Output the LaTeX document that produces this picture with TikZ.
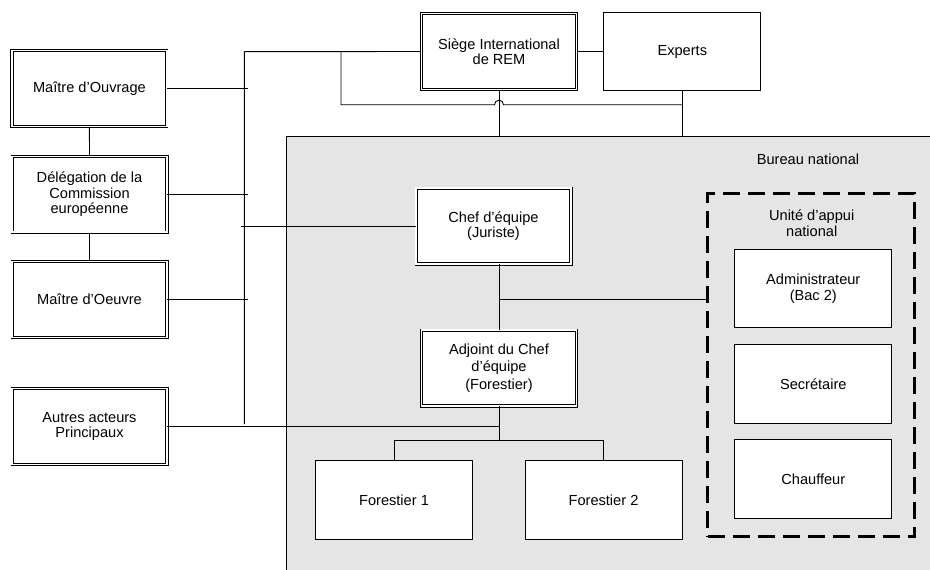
\documentclass[tikz,border=0pt]{standalone}
\usepackage{fontspec}
\setmainfont{Liberation Sans}
\begin{document}
\begin{tikzpicture}[x=1pt,y=-1pt,
  line/.style={line width=0.9pt},
  txt/.style={font=\fontsize{14.6}{15.5}\selectfont, align=center, inner sep=0pt},
  sbox/.style={txt, draw, fill=white, line width=0.9pt, minimum width=157pt, minimum height=78.2pt},
  dbox/.style={txt, draw, fill=white, double=white, double distance=1.6pt, line width=0.8pt, minimum width=154.8pt, minimum height=75.8pt},
  unitbox/.style={draw, line width=3pt, dash pattern=on 17pt off 8pt, inner sep=0pt, minimum width=206.7pt, minimum height=343.6pt}
]
\useasboundingbox (0,0) rectangle (930,570);
\clip (0,0) rectangle (930,570);

% Bureau national area
\node[fill=black!10, draw, line width=0.9pt, inner sep=0pt, minimum width=660pt, minimum height=450pt, anchor=north west] (bn) at (286,135.5) {};
\node[txt] (bnl) at (808,159.3) {Bureau national};

% unit box
\node[unitbox, anchor=north west] (ua) at (706,191.7) {};
\node[txt] (ual) at (811.7,223) {Unité d’appui\\national};

% boxes
\node[dbox] (sieg) at (499,51.5) {Siège International\\de REM};
\node[sbox] (exp) at (682.3,51.5) {Experts};
\node[dbox] (mo) at (89.4,88.5) {Maître d’Ouvrage};
\node[dbox] (del) at (89.5,194.3) {Délégation de la\\Commission\\européenne};
\node[dbox] (moe) at (89.5,299.5) {Maître d’Oeuvre};
\node[dbox] (aut) at (89.5,426.5) {Autres acteurs\\Principaux};
\node[dbox] (chef) at (493.5,226) {Chef d’équipe\\(Juriste)};
\node[dbox, font=\fontsize{14.6}{17.5}\selectfont] (adj) at (499,368) {Adjoint du Chef\\d’équipe\\(Forestier)};
\node[sbox] (f1) at (394,500) {Forestier 1};
\node[sbox] (f2) at (603.5,500) {Forestier 2};
\node[sbox] (adm) at (813.3,288.8) {Administrateur\\(Bac 2)};
\node[sbox] (sec) at (813.3,384) {Secrétaire};
\node[sbox] (chf) at (813.3,479) {Chauffeur};

% coordinates
\coordinate (bustop) at (244.3,51.7);
\coordinate (busbot) at (244.3,424);
\coordinate (tick) at (247.7,0);
\coordinate (chefl) at (241,226);
\coordinate (h1) at (341,104.7);
\coordinate (hopl) at (494.5,104.7);
\coordinate (j1) at (499,299.3);
\coordinate (fj) at (499,440.7);

% connectors
\draw[line] (sieg.east) -- (exp.west);
\draw[line] (sieg.west) -- (bustop) -- (busbot);
\draw[line] (mo.east) -- (mo.east -| tick);
\draw[line] (del.east) -- (del.east -| tick);
\draw[line] (moe.east) -- (moe.east -| tick);
\draw[line] (chefl) -- (chef.west);
\draw[line] (mo.south) -- (del.north);
\draw[line] (del.south) -- (moe.north);
\draw[line] (sieg.west -| h1) -- (h1) -- (hopl) arc[start angle=180, end angle=360, radius=4.5] -- (exp.south |- h1);
\draw[line] (sieg.south) -- (sieg.south |- bn.north);
\draw[line] (exp.south) -- (exp.south |- bn.north);
\draw[line] (adj.north |- chef.south) -- (adj.north);
\draw[line] (j1) -- (j1 -| ua.west);
\draw[line] (adj.south) -- (fj);
\draw[line] (aut.east) -- (aut.east -| fj);
\draw[line] (f1.north) -- (f1.north |- fj) -- (f2.north |- fj) -- (f2.north);
\end{tikzpicture}
\end{document}
